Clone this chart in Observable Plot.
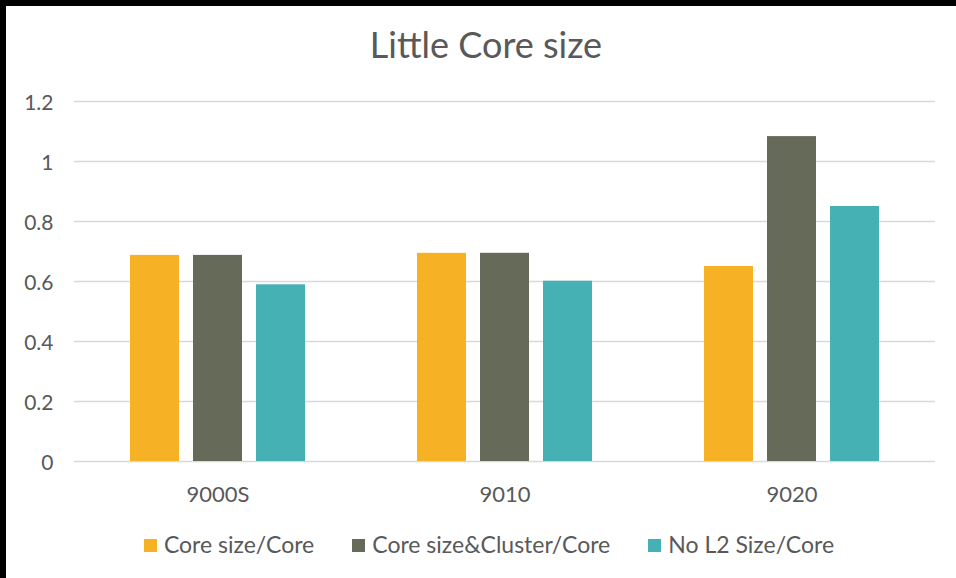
<!DOCTYPE html>
<html><head><meta charset="utf-8">
<script src="https://cdn.jsdelivr.net/npm/d3@7"></script>
<script src="https://cdn.jsdelivr.net/npm/@observablehq/plot@0.6"></script>
<style>
html,body{margin:0;padding:0;background:#000;}
#frame{position:absolute;left:6px;top:6px;width:950px;height:572px;background:#fff;font-family:Lato,"Open Sans",sans-serif;color:#595959;overflow:hidden;}
#chart{position:absolute;left:0;top:0;}
#title{position:absolute;left:0;width:950px;top:17px;text-align:center;font-size:36px;line-height:1.2;padding-left:10px;box-sizing:border-box;}
#legend{position:absolute;left:0;width:950px;top:525px;display:flex;justify-content:center;align-items:center;font-size:23px;line-height:1.2;padding-left:16px;box-sizing:border-box;}
.item{display:flex;align-items:center;margin:0 19px;}
.sw{width:13px;height:13px;margin-right:7px;margin-top:1px;}
</style></head>
<body><div id="frame"><div id="chart"></div><div id="title">Little Core size</div><div id="legend"></div></div>
<script>
const groups = ["9000S", "9010", "9020"];
const series = ["Core size/Core", "Core size&Cluster/Core", "No L2 Size/Core"];
const coreSize = [0.687, 0.694, 0.65];
const coreCluster = [0.687, 0.694, 1.083];
const noL2 = [0.589, 0.601, 0.85];
const colors = ["#F6B124", "#666A58", "#46B1B5"];
const yTicks = [0, 0.2, 0.4, 0.6, 0.8, 1, 1.2];

const valuesBySeries = [coreSize, coreCluster, noL2];
const data = [];
groups.forEach((g, i) => series.forEach((s, j) => data.push({group: g, series: s, value: valuesBySeries[j][i]})));

const plot = Plot.plot({
  width: 950,
  height: 520,
  marginLeft: 67,
  marginRight: 20,
  marginTop: 95,
  marginBottom: 65,
  style: {fontFamily: "Lato, 'Open Sans', sans-serif", fontSize: "21px", color: "#595959", background: "transparent"},
  fx: {domain: groups, padding: 0, label: null, axis: null},
  x: {domain: series, paddingInner: 0.219, paddingOuter: 0.857, axis: null},
  y: {domain: [0, 1.2], label: null},
  color: {domain: series, range: colors},
  marks: [
    Plot.gridY(yTicks, {stroke: "#D9D9D9", strokeOpacity: 1, strokeWidth: 1.5}),
    Plot.axisY(yTicks, {tickSize: 0, tickPadding: 21, tickFormat: d3.format("~g"), dy: 2, fill: "#595959", label: null}),
    Plot.axisFx({anchor: "bottom", tickSize: 0, tickPadding: 25, fill: "#595959", fontSize: 22, label: null}),
    Plot.barY(data, {fx: "group", x: "series", y: "value", fill: "series"})
  ]
});
document.getElementById("chart").appendChild(plot);

const legend = document.getElementById("legend");
series.forEach((s, j) => {
  const it = document.createElement("div"); it.className = "item";
  const sw = document.createElement("div"); sw.className = "sw"; sw.style.background = colors[j];
  const tx = document.createElement("span"); tx.textContent = s;
  it.appendChild(sw); it.appendChild(tx); legend.appendChild(it);
});
</script></body></html>
